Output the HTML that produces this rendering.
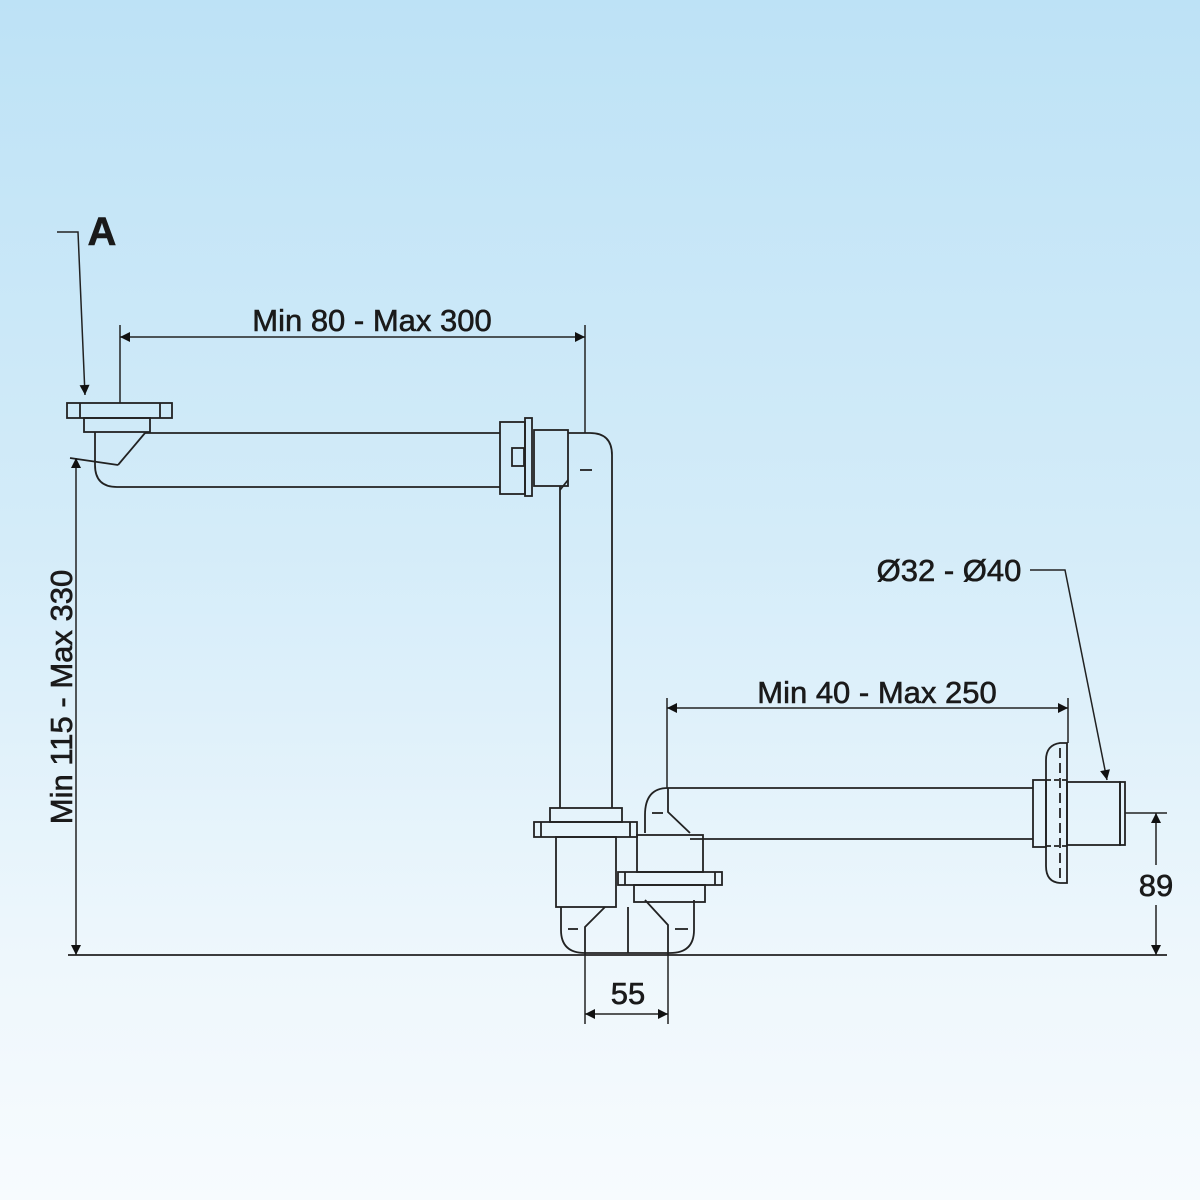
<!DOCTYPE html>
<html><head><style>
html,body{margin:0;padding:0;}
body{width:1200px;height:1200px;background:linear-gradient(#bde2f6 0%,#d4ecf9 45%,#eef7fc 80%,#f7fbfe 100%);overflow:hidden;}
svg{position:absolute;left:0;top:0;}
text{font-family:"Liberation Sans",sans-serif;fill:#1a1a1a;}
</style></head><body>
<svg width="1200" height="1200" viewBox="0 0 1200 1200">
<defs>
<marker id="ar" viewBox="0 0 10 10" refX="10" refY="5" markerWidth="24" markerHeight="10" markerUnits="userSpaceOnUse" orient="auto-start-reverse">
<path d="M0,0 L10,5 L0,10 z" fill="#111"/></marker>
</defs>
<g fill="none" stroke="#222" stroke-width="1.8">
<line x1="68" y1="955" x2="1167" y2="955"/>
<rect x="67" y="403" width="105" height="15"/>
<line x1="80" y1="403" x2="80" y2="418"/><line x1="160" y1="403" x2="160" y2="418"/>
<rect x="84" y="418" width="66" height="14"/>
<path d="M95,432 L95,465 Q95,487 117,487 L500,487"/>
<line x1="145" y1="433" x2="500" y2="433"/>
<line x1="145" y1="433" x2="118" y2="465"/>
<line x1="118" y1="465" x2="70" y2="458"/>
<rect x="500" y="422" width="25" height="72"/>
<rect x="525" y="418" width="7" height="78"/>
<rect x="512" y="448" width="12" height="18"/>
<rect x="534" y="430" width="34" height="56"/>
<path d="M568,433 L590,433 Q612,433 612,455 L612,808"/>
<line x1="568" y1="480" x2="560" y2="490"/>
<line x1="560" y1="486" x2="560" y2="808"/>
<line x1="580" y1="470" x2="592" y2="470"/>
<rect x="550" y="808" width="72" height="14"/>
<rect x="534" y="822" width="103" height="15"/>
<line x1="541" y1="822" x2="541" y2="837"/><line x1="630" y1="822" x2="630" y2="837"/>
<rect x="556" y="837" width="60" height="70"/>
<path d="M561,907 L561,930 Q561,953 585,953 L670,953 Q694,953 694,930 L694,900"/>
<path d="M605,907 L585,927 L585,955"/>
<path d="M645,900 L668,925 L668,955"/>
<line x1="628" y1="907" x2="628" y2="953"/>
<line x1="568" y1="929" x2="578" y2="929"/><line x1="675" y1="929" x2="688" y2="929"/>
<rect x="634" y="885" width="71" height="17"/>
<rect x="618" y="872" width="104" height="13"/>
<line x1="625" y1="872" x2="625" y2="885"/><line x1="715" y1="872" x2="715" y2="885"/>
<rect x="637" y="835" width="66" height="37"/>
<path d="M645,833 L645,815 Q645,788 668,788 L1033,788"/>
<path d="M668,788 L668,812 L690,833"/>
<line x1="690" y1="839" x2="1033" y2="839"/>
<line x1="652" y1="813" x2="663" y2="813"/>
<rect x="1033" y="780" width="13" height="67"/>
<path d="M1067,743 L1060,743 Q1046,745 1046,760 L1046,866 Q1046,882 1060,883 L1067,883 Z"/>
<line x1="1060" y1="748" x2="1060" y2="878" stroke-dasharray="10,5"/>
<line x1="1046" y1="780" x2="1067" y2="780" stroke-dasharray="5,3"/>
<line x1="1046" y1="846" x2="1067" y2="846" stroke-dasharray="5,3"/>
<rect x="1067" y="782" width="53" height="63"/>
<rect x="1120" y="782" width="5" height="63"/>
<g stroke-width="1.5">
<line x1="120" y1="325" x2="120" y2="403"/>
<line x1="585" y1="325" x2="585" y2="433"/>
<line x1="120" y1="337" x2="585" y2="337" marker-start="url(#ar)" marker-end="url(#ar)"/>
<line x1="76" y1="458" x2="76" y2="955" marker-start="url(#ar)" marker-end="url(#ar)"/>
<path d="M57,232 L78,232 L85,395" marker-end="url(#ar)"/>
<line x1="667" y1="698" x2="667" y2="788"/>
<line x1="1068" y1="698" x2="1068" y2="743"/>
<line x1="667" y1="708" x2="1068" y2="708" marker-start="url(#ar)" marker-end="url(#ar)"/>
<path d="M1030,570 L1065,570 L1107,780" marker-end="url(#ar)"/>
<line x1="1125" y1="813" x2="1167" y2="813"/>
<line x1="1156" y1="813" x2="1156" y2="865" marker-start="url(#ar)"/>
<line x1="1156" y1="905" x2="1156" y2="955" marker-end="url(#ar)"/>
<line x1="585" y1="955" x2="585" y2="1024"/>
<line x1="668" y1="955" x2="668" y2="1024"/>
<line x1="585" y1="1014" x2="668" y2="1014" marker-start="url(#ar)" marker-end="url(#ar)"/>
</g>
</g>
<g stroke="#1a1a1a" stroke-width="0.6">
<text x="372" y="331" font-size="31" text-anchor="middle">Min 80 - Max 300</text>
<text x="102" y="245" font-size="40" font-weight="bold" text-anchor="middle">A</text>
<text x="0" y="0" font-size="31" text-anchor="middle" transform="translate(72,697) rotate(-90)">Min 115 - Max 330</text>
<text x="877" y="703" font-size="31" text-anchor="middle">Min 40 - Max 250</text>
<text x="949" y="581" font-size="31" text-anchor="middle">Ø32 - Ø40</text>
<text x="1156" y="896" font-size="31" text-anchor="middle">89</text>
<text x="628" y="1004" font-size="31" text-anchor="middle">55</text>
</g>
</svg>
</body></html>
